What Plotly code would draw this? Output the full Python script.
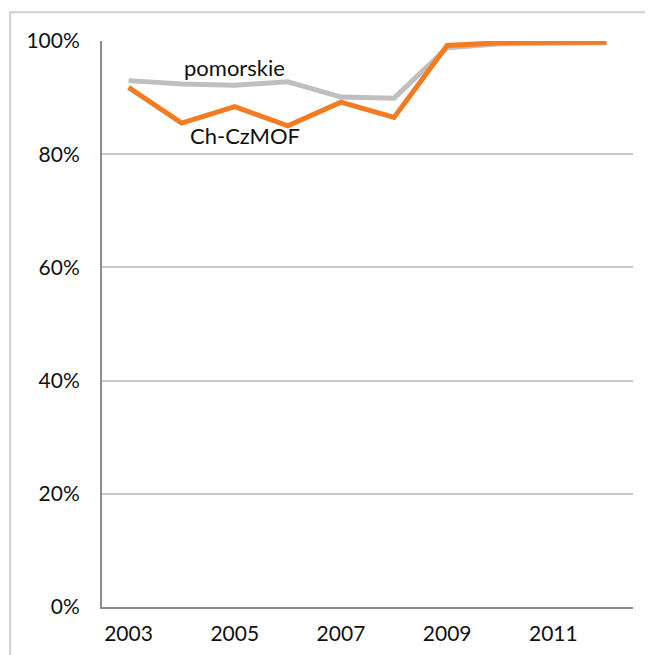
import plotly.graph_objects as go

years = ["2003", "2004", "2005", "2006", "2007", "2008", "2009", "2010", "2011", "2012"]
pomorskie = [93.0, 92.4, 92.2, 92.8, 90.1, 89.9, 98.8, 99.5, 99.6, 99.7]
ch_czmof = [91.8, 85.5, 88.4, 85.0, 89.2, 86.5, 99.2, 99.7, 99.8, 99.8]
x_ticks = ["2003", "2005", "2007", "2009", "2011"]
y_ticks = [0, 20, 40, 60, 80, 100]
y_labels = [f"{v}%" for v in y_ticks]

FONT = "Lato"

fig = go.Figure()
fig.add_trace(go.Scatter(x=years, y=pomorskie, mode="lines", name="pomorskie",
                         line=dict(color="#bfbfbf", width=5)))
fig.add_trace(go.Scatter(x=years, y=ch_czmof, mode="lines", name="Ch-CzMOF",
                         line=dict(color="#f47b20", width=5)))

# page body has an 8px margin, so the figure is a bit smaller than the window
fig.update_layout(
    width=645, height=647,
    margin=dict(l=94, r=20, t=33, b=48),
    plot_bgcolor="white", paper_bgcolor="white",
    showlegend=False,
    font=dict(family=FONT, size=21, color="#111111"),
    annotations=[
        dict(x=2.0, y=95.4, xref="x", yref="y", text="pomorskie", showarrow=False,
             font=dict(family=FONT, size=22, color="#111111")),
        dict(x=2.2, y=83.3, xref="x", yref="y", text="Ch-CzMOF", showarrow=False,
             font=dict(family=FONT, size=22, color="#111111")),
    ],
    shapes=[
        # light outer frame of the chart box
        dict(type="rect", xref="paper", yref="paper",
             x0=-0.173, x1=1.2, y0=-0.2, y1=1.051,
             line=dict(color="#d0d0d0", width=2), layer="below"),
    ],
)

fig.update_xaxes(type="category", range=[-0.5, 9.5], tickvals=x_ticks, ticktext=x_ticks,
                 showgrid=False, showline=True, linecolor="#8c8c8c", linewidth=2,
                 ticks="", ticklabelstandoff=7, automargin=False)
fig.update_yaxes(range=[0, 100], tickvals=y_ticks, ticktext=y_labels,
                 showgrid=True, gridcolor="#c8c8c8", gridwidth=1.5,
                 zeroline=False, showline=True, linecolor="#8c8c8c", linewidth=2,
                 ticks="", ticklabelstandoff=16, automargin=False)

fig.write_html("out.html")
